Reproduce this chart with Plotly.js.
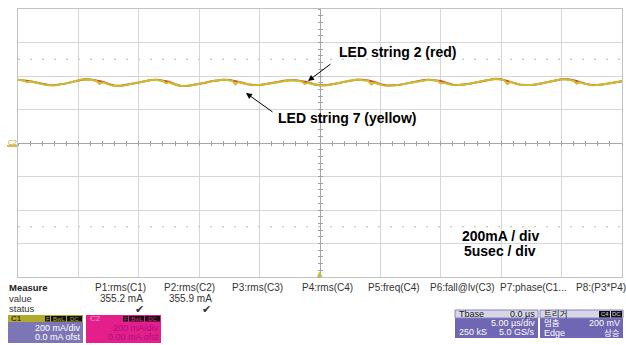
<!DOCTYPE html>
<html><head><meta charset="utf-8">
<script src="https://cdn.plot.ly/plotly-3.0.1.min.js"></script>
<style>html,body{margin:0;padding:0;background:#fff;} #chart{width:626px;height:345px;}</style>
</head><body><div id="chart"></div>
<script>
// ---- data (read from the scope capture) ----
const timeStartUs = -25;          // left edge of screen, trigger at 0
const yellowStepUs = 0.25;
const redStepUs = 0.5;
// LED string 7 (yellow), mA
const string7YellowMa = [
377,376,373,362,368,364,359,354,350,347,
345,344,345,347,349,352,356,360,365,370,
375,379,380,379,377,374,370,352,362,355,
349,344,341,341,342,344,347,350,353,357,
361,365,369,373,376,377,376,374,371,356,
362,355,348,343,340,340,341,343,346,349,
352,356,360,364,368,372,375,377,377,376,
374,371,350,364,358,353,349,347,345,345,
346,348,351,354,357,361,364,368,371,373,
374,374,372,370,367,352,360,354,349,346,
344,344,345,347,350,353,357,361,365,369,
373,376,377,377,375,373,370,350,361,354,
348,344,342,342,343,345,347,350,353,357,
361,365,369,372,375,377,377,376,373,370,
356,360,354,349,346,345,345,347,349,352,
355,359,363,367,371,375,378,381,382,381,
378,375,352,365,358,352,348,346,345,345,
346,348,351,354,358,362,366,370,374,378,
380,380,378,375,372,354,363,356,351,347,
345,345,346,348,351,354,357,360,363,366,
369];
// LED string 2 (red), mA
const string2RedMa = [
378,375,369,361,352,346,345,349,356,365,
375,381,379,373,366,352,342,342,347,353,
361,369,376,378,374,366,351,341,341,346,
352,360,368,375,378,376,370,361,351,346,
346,351,357,364,371,375,374,370,363,351,
345,345,350,357,365,373,378,377,373,364,
351,343,343,347,353,361,369,375,378,376,
371,358,348,346,349,355,363,371,378,383,
380,370,360,350,346,346,351,358,366,374,
381,380,375,365,353,346,346,351,357,363,
369];
const xRangeUs = [-25, 25];
const yRangeMa = [-800, 800];
const divUs = 5, divMa = 200;
const measureLabels = ['P1:rms(C1)','P2:rms(C2)','P3:rms(C3)','P4:rms(C4)','P5:freq(C4)','P6:fall@lv(C3)','P7:phase(C1...','P8:(P3*P4)'];
const measureValues = ['355.2 mA','355.9 mA'];

// ---- pixel helpers for decorations ----
const L=18, R=622, T=9, B=277;
function px(x){return (x-L)/(R-L);}
function py(y){return (B-y)/(B-T);}
const SANS='Liberation Sans, Arial, sans-serif';
const KR='Liberation Sans, Noto Sans CJK KR, sans-serif';
const anns=[], shapes=[];
function txt(x,y,text,o){o=o||{};anns.push({xref:'paper',yref:'paper',x:px(x),y:py(y),text:text,showarrow:false,
  xanchor:o.a||'left',yanchor:'middle',borderpad:0,font:{family:o.f||SANS,size:o.s||10,color:o.c||'#333'}});}
function rect(x0,y0,x1,y1,fill,line){shapes.push({type:'rect',xref:'paper',yref:'paper',x0:px(x0),x1:px(x1),y0:py(y1),y1:py(y0),
  fillcolor:fill,line:line||{width:0},layer:'above'});}

// dotted level rows
[500,-500].forEach(v=>shapes.push({type:'line',xref:'x',yref:'y',x0:xRangeUs[0],x1:xRangeUs[1],y0:v,y1:v,
  line:{color:'#b4b4b4',width:1,dash:'2px,10px'},layer:'below'}));

// chart annotations
txt(338,52,'<b>LED string 2 (red)</b>',{s:14,c:'#000'});
txt(277,118,'<b>LED string 7 (yellow)</b>',{s:14,c:'#000'});
txt(501,236,'<b>200mA / div</b>',{s:14,c:'#000',a:'center'});
txt(500,251,'<b>5usec / div</b>',{s:14,c:'#000',a:'center'});
anns.push({xref:'paper',yref:'paper',x:px(308),y:py(81),ax:24,ay:-18,text:'',showarrow:true,arrowhead:2,arrowsize:1.2,arrowwidth:1,arrowcolor:'#000'});
anns.push({xref:'paper',yref:'paper',x:px(246),y:py(93),ax:28,ay:20,text:'',showarrow:true,arrowhead:2,arrowsize:1.2,arrowwidth:1,arrowcolor:'#000'});
// C2 channel marker
txt(12,142,'C2',{s:7,c:'#c8a020',a:'center'});
shapes.push({type:'line',xref:'paper',yref:'paper',x0:px(7),x1:px(17),y0:py(146),y1:py(146),line:{color:'#c8a020',width:1.5},layer:'above'});
// trigger marker
txt(320,274,'▲',{s:7,c:'#b4c030',a:'center',f:'DejaVu Sans'});

// measure panel
txt(8,287,'<b>Measure</b>',{s:9.5,c:'#222'});
txt(8,298,'value',{s:9.5});
txt(8,308,'status',{s:9.5});
const mCenters=[120,189,257,327,394,462,533,601];
measureLabels.forEach((m,i)=>txt(mCenters[i],287,m,{s:10,a:'center'}));
txt(144,298,measureValues[0],{s:10,a:'right'});
txt(213,298,measureValues[1],{s:10,a:'right'});
txt(139,309,'✔',{s:11,c:'#333',a:'center',f:'DejaVu Sans'});
txt(206,309,'✔',{s:11,c:'#333',a:'center',f:'DejaVu Sans'});

// C1 box
rect(8,315,83,343,'#7d76b6');
rect(8,315,83,322,'#b2aa2c');
txt(10,318.5,'C1',{s:8,c:'#000'});
rect(45,316,50,321.5,'#111'); rect(51,316,66,321.5,'#111'); rect(67,316,82,321.5,'#111');
txt(47.5,318.7,'F',{s:6,c:'#b2aa2c',a:'center'}); txt(58.5,318.7,'BwL',{s:6,c:'#b2aa2c',a:'center'}); txt(74.5,318.7,'DC',{s:6,c:'#b2aa2c',a:'center'});
txt(82,328,'200 mA/div',{s:9,c:'#fff',a:'right'});
txt(82,337,'0.0 mA ofst',{s:9,c:'#fff',a:'right'});
// C2 box
rect(86,315,161,343,'#e41f8c');
txt(89,318.5,'C2',{s:8,c:'#f59ac8'});
rect(123,316,128,321.5,'#111'); rect(129,316,144,321.5,'#111'); rect(145,316,160,321.5,'#111');
txt(125.5,318.7,'F',{s:6,c:'#e41f8c',a:'center'}); txt(136.5,318.7,'BwL',{s:6,c:'#e41f8c',a:'center'}); txt(152.5,318.7,'DC',{s:6,c:'#e41f8c',a:'center'});
txt(160,328,'200 mA/div',{s:9,c:'#a8107a',a:'right'});
txt(160,337,'0.00 mA ofst',{s:9,c:'#a8107a',a:'right'});
// Tbase box
rect(455,310,538,338,'#6f66b4');
rect(455,310,538,318,'#d6d6e6',{color:'#8a84c0',width:1});
txt(458,314,'Tbase',{s:9,c:'#222'});
txt(536,314,'0.0 µs',{s:9,c:'#222',a:'right'});
txt(536,323,'5.00 µs/div',{s:9,c:'#fff',a:'right'});
txt(458,332,'250 kS',{s:9,c:'#fff'});
txt(536,332,'5.0 GS/s',{s:9,c:'#fff',a:'right'});
// Trigger box
rect(540,310,623,338,'#6f66b4');
rect(540,310,623,318,'#d6d6e6',{color:'#8a84c0',width:1});
txt(543,313.5,'트리거',{s:8.5,c:'#222',f:KR});
rect(599,311,610,317.5,'#111'); rect(611,311,622,317.5,'#111');
txt(604.5,314.3,'C4',{s:6,c:'#d6d6e6',a:'center'}); txt(616.5,314.3,'DC',{s:6,c:'#d6d6e6',a:'center'});
txt(543,323,'멈춤',{s:8.5,c:'#fff',f:KR});
txt(621,323,'200 mV',{s:9,c:'#fff',a:'right'});
txt(543,332.5,'Edge',{s:9,c:'#fff'});
txt(621,332.5,'상승',{s:8.5,c:'#fff',a:'right',f:KR});

const traces=[
 {type:'scatter',mode:'lines',x0:timeStartUs,dx:redStepUs,y:string2RedMa,line:{color:'#d8482a',width:2},hoverinfo:'skip',name:'LED string 2 (red)'},
 {type:'scatter',mode:'lines',x0:timeStartUs,dx:yellowStepUs,y:string7YellowMa,line:{color:'#c9bf2e',width:2},hoverinfo:'skip',name:'LED string 7 (yellow)'},
 {type:'scatter',x:[],y:[],xaxis:'x2',yaxis:'y',hoverinfo:'skip'},
 {type:'scatter',x:[],y:[],xaxis:'x3',yaxis:'y',hoverinfo:'skip'},
 {type:'scatter',x:[],y:[],xaxis:'x',yaxis:'y2',hoverinfo:'skip'},
 {type:'scatter',x:[],y:[],xaxis:'x',yaxis:'y3',hoverinfo:'skip'}
];
const grid={showgrid:true,gridcolor:'#d6d6d6',gridwidth:1,zeroline:true,zerolinecolor:'#a6a6a6',zerolinewidth:1,
  showline:true,mirror:true,linecolor:'#c2c2c2',linewidth:1,showticklabels:false,ticks:'',fixedrange:true};
const tickAx=(ov,rng,dt,side)=>({overlaying:ov,anchor:'free',position:0.5,range:rng,dtick:dt,tick0:0,ticks:side,ticklen:2,
  tickwidth:1,tickcolor:'#a0a0a0',showticklabels:false,showgrid:false,zeroline:false,showline:false,fixedrange:true});
const layout={
 width:626,height:345,margin:{l:L,r:626-R,t:T,b:345-B,pad:0},
 paper_bgcolor:'#fff',plot_bgcolor:'#fff',showlegend:false,
 xaxis:Object.assign({range:xRangeUs,dtick:divUs,tick0:0},grid),
 yaxis:Object.assign({range:yRangeMa,dtick:divMa,tick0:0},grid),
 xaxis2:tickAx('x',xRangeUs,divUs/5,'outside'),
 xaxis3:tickAx('x',xRangeUs,divUs/5,'inside'),
 yaxis2:tickAx('y',yRangeMa,divMa/5,'outside'),
 yaxis3:tickAx('y',yRangeMa,divMa/5,'inside'),
 shapes:shapes, annotations:anns
};
Plotly.newPlot('chart',traces,layout,{displayModeBar:false,staticPlot:true});
</script></body></html>
